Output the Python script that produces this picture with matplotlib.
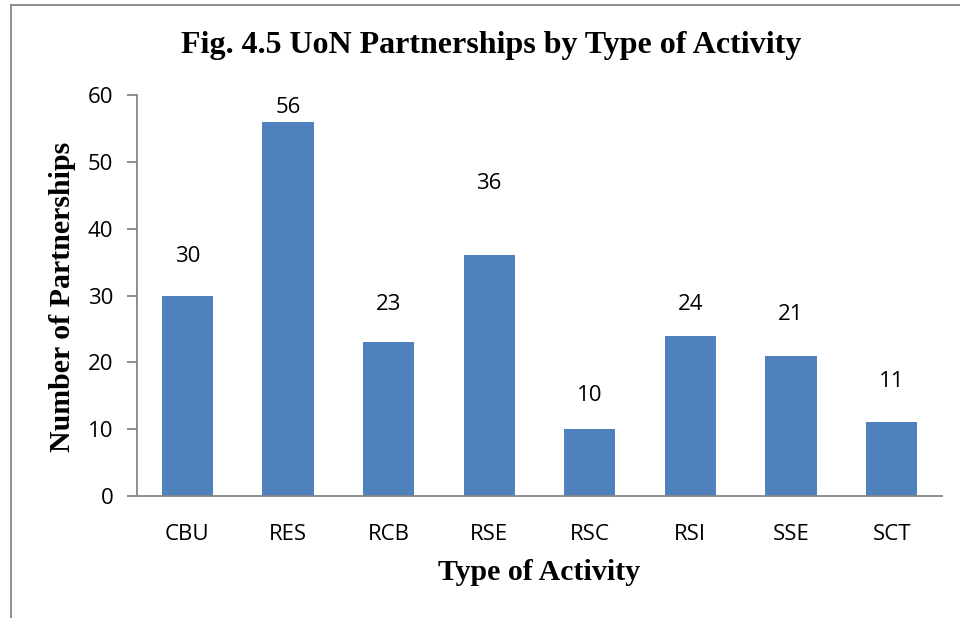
import matplotlib
matplotlib.use("Agg")
import matplotlib.pyplot as plt
from matplotlib.lines import Line2D

categories = ["CBU", "RES", "RCB", "RSE", "RSC", "RSI", "SSE", "SCT"]
values = [30, 56, 23, 36, 10, 24, 21, 11]
# vertical positions (data units) where the value labels sit in the original
label_y = [35.8, 58.1, 28.6, 46.8, 15.1, 28.6, 27.2, 17.2]
yticks = [0, 10, 20, 30, 40, 50, 60]

W, H = 960, 618
fig = plt.figure(figsize=(W / 100, H / 100), dpi=100)
ax = fig.add_axes([137 / W, 1 - 496 / H, (942 - 137) / W, (496 - 95) / H])

x = list(range(len(categories)))
ax.bar(x, values, width=0.51, color="#4F81BD", zorder=2)
ax.set_xlim(-0.5, len(categories) - 0.5)
ax.set_ylim(0, 60)
ax.set_yticks(yticks)
ax.set_xticks(x)
ax.set_xticklabels(categories)

tick_family = ["Open Sans", "DejaVu Sans"]
tick_size = 16
for lbl in ax.get_xticklabels() + ax.get_yticklabels():
    lbl.set_fontfamily(tick_family)
    lbl.set_fontsize(tick_size)
    lbl.set_color("black")

for s in ["top", "right"]:
    ax.spines[s].set_visible(False)
for s in ["left", "bottom"]:
    ax.spines[s].set_color("#868686")
    ax.spines[s].set_linewidth(1.3)
ax.tick_params(axis="y", direction="out", length=7, width=1.3, color="#868686", pad=10)
ax.tick_params(axis="x", length=0, pad=20)

for xi, v, ly in zip(x, values, label_y):
    ax.text(xi, ly, str(v), ha="center", va="center",
            fontfamily=tick_family, fontsize=tick_size)

serif = ["Liberation Serif", "DejaVu Serif"]
fig.text(491 / W, 1 - 45 / H, "Fig. 4.5 UoN Partnerships by Type of Activity",
         ha="center", va="center", fontfamily=serif, fontweight="bold", fontsize=23)
fig.text(63 / W, 1 - 297 / H, "Number of Partnerships", rotation=90,
         ha="center", va="center", fontfamily=serif, fontweight="bold", fontsize=21.5)
fig.text(539 / W, 1 - 572 / H, "Type of Activity",
         ha="center", va="center", fontfamily=serif, fontweight="bold", fontsize=21.5)

# outer chart-area border (left and top edges visible)
fig.add_artist(Line2D([11 / W, 11 / W], [0, 1 - 5 / H], transform=fig.transFigure,
                      color="#868686", linewidth=1.3))
fig.add_artist(Line2D([11 / W, 1], [1 - 5 / H, 1 - 5 / H], transform=fig.transFigure,
                      color="#868686", linewidth=1.3))

fig.savefig("out.png", dpi=100, facecolor="white")
